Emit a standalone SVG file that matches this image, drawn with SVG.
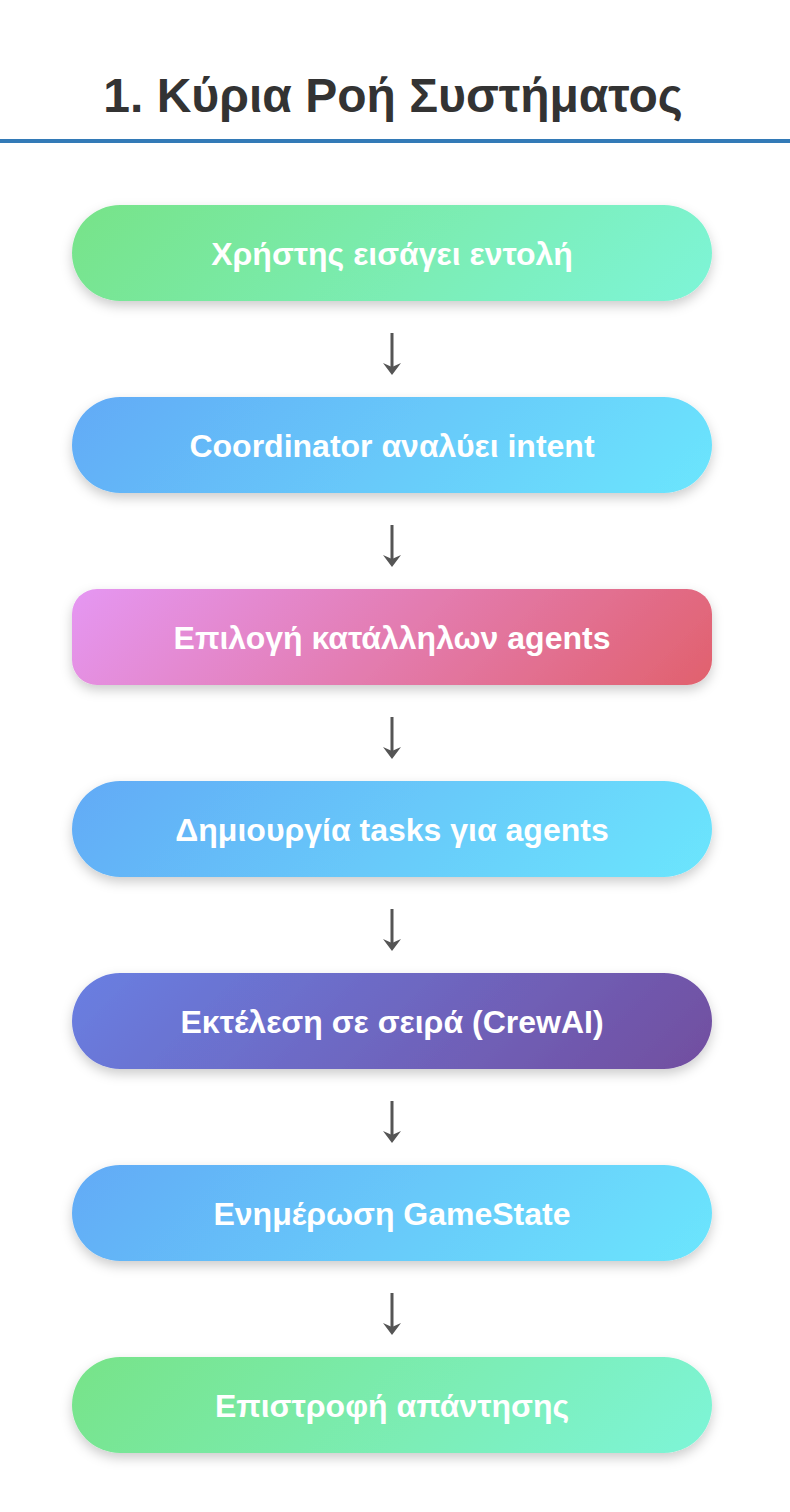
<svg xmlns="http://www.w3.org/2000/svg" width="790" height="1512" viewBox="0 0 790 1512">
<style>
.title{font-family:"Liberation Sans",Arial,sans-serif;font-weight:bold;font-size:48px;fill:#333;text-anchor:middle}
.lbl{font-family:"Liberation Sans",Arial,sans-serif;font-weight:bold;font-size:32px;fill:#fff;text-anchor:middle}
.shaft{stroke:#555;stroke-width:3;fill:none}
.head{fill:#555}
</style>
<defs>
<linearGradient id="gGreen" gradientUnits="userSpaceOnUse" x1="136" y1="-136" x2="504" y2="232"><stop offset="0" stop-color="#77e388"/><stop offset="1" stop-color="#7ef5d8"/></linearGradient>
<linearGradient id="gBlue" gradientUnits="userSpaceOnUse" x1="136" y1="-136" x2="504" y2="232"><stop offset="0" stop-color="#62aaf6"/><stop offset="1" stop-color="#6ce6fd"/></linearGradient>
<linearGradient id="gPink" gradientUnits="userSpaceOnUse" x1="136" y1="-136" x2="504" y2="232"><stop offset="0" stop-color="#e597f3"/><stop offset="1" stop-color="#e1616d"/></linearGradient>
<linearGradient id="gPurple" gradientUnits="userSpaceOnUse" x1="136" y1="-136" x2="504" y2="232"><stop offset="0" stop-color="#697fe2"/><stop offset="1" stop-color="#724e9f"/></linearGradient>
<filter id="sh" x="-10%" y="-30%" width="120%" height="170%"><feDropShadow dx="0" dy="5" stdDeviation="6" flood-color="#000" flood-opacity="0.2"/></filter>
</defs>
<rect width="790" height="1512" fill="#fff"/>
<text class="title" x="393" y="112">1. Κύρια Ροή Συστήματος</text>
<rect x="0" y="139" width="790" height="4" fill="#337ab7"/>
<g id="connectors">
<g transform="translate(392,333)"><line class="shaft" x1="0" y1="0" x2="0" y2="36"/><path class="head" d="M-9,30 L0,42 L9,30 L0,34 Z"/></g>
<g transform="translate(392,525)"><line class="shaft" x1="0" y1="0" x2="0" y2="36"/><path class="head" d="M-9,30 L0,42 L9,30 L0,34 Z"/></g>
<g transform="translate(392,717)"><line class="shaft" x1="0" y1="0" x2="0" y2="36"/><path class="head" d="M-9,30 L0,42 L9,30 L0,34 Z"/></g>
<g transform="translate(392,909)"><line class="shaft" x1="0" y1="0" x2="0" y2="36"/><path class="head" d="M-9,30 L0,42 L9,30 L0,34 Z"/></g>
<g transform="translate(392,1101)"><line class="shaft" x1="0" y1="0" x2="0" y2="36"/><path class="head" d="M-9,30 L0,42 L9,30 L0,34 Z"/></g>
<g transform="translate(392,1293)"><line class="shaft" x1="0" y1="0" x2="0" y2="36"/><path class="head" d="M-9,30 L0,42 L9,30 L0,34 Z"/></g>
</g>
<g id="n1" transform="translate(72,205)"><rect width="640" height="96" rx="48" fill="url(#gGreen)" filter="url(#sh)"/><text class="lbl" x="320" y="60">Χρήστης εισάγει εντολή</text></g>
<g id="n2" transform="translate(72,397)"><rect width="640" height="96" rx="48" fill="url(#gBlue)" filter="url(#sh)"/><text class="lbl" x="320" y="60">Coordinator αναλύει intent</text></g>
<g id="n3" transform="translate(72,589)"><rect width="640" height="96" rx="25" fill="url(#gPink)" filter="url(#sh)"/><text class="lbl" x="320" y="60">Επιλογή κατάλληλων agents</text></g>
<g id="n4" transform="translate(72,781)"><rect width="640" height="96" rx="48" fill="url(#gBlue)" filter="url(#sh)"/><text class="lbl" x="320" y="60">Δημιουργία tasks για agents</text></g>
<g id="n5" transform="translate(72,973)"><rect width="640" height="96" rx="48" fill="url(#gPurple)" filter="url(#sh)"/><text class="lbl" x="320" y="60">Εκτέλεση σε σειρά (CrewAI)</text></g>
<g id="n6" transform="translate(72,1165)"><rect width="640" height="96" rx="48" fill="url(#gBlue)" filter="url(#sh)"/><text class="lbl" x="320" y="60">Ενημέρωση GameState</text></g>
<g id="n7" transform="translate(72,1357)"><rect width="640" height="96" rx="48" fill="url(#gGreen)" filter="url(#sh)"/><text class="lbl" x="320" y="60">Επιστροφή απάντησης</text></g>
</svg>
